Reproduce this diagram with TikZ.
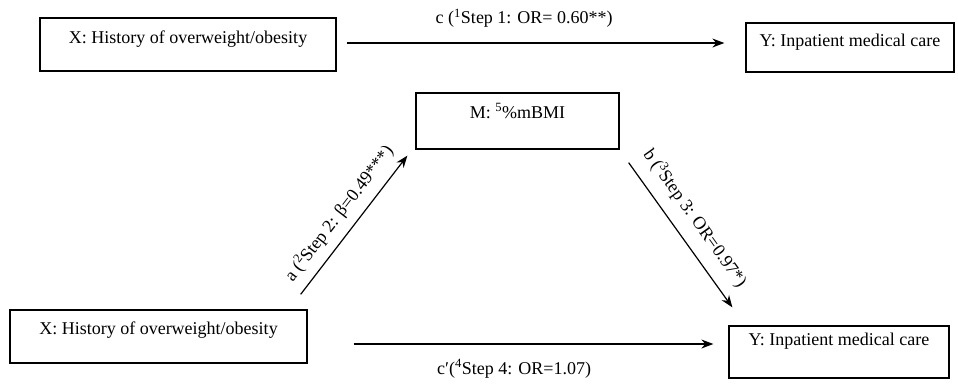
\documentclass[tikz,border=0pt]{standalone}
\usepackage{fontspec}
\setmainfont{Liberation Serif}
\usetikzlibrary{arrows.meta}
\begin{document}
\begin{tikzpicture}[x=1pt, y=-1pt,
		font=\fontsize{18}{21}\selectfont,
		box/.style={draw, line width=1.3pt, inner xsep=0pt, inner ysep=0pt},
		path/.style={line width=1.2pt, -{Stealth[length=12pt, width=9pt]}},
		coef/.style={inner sep=1pt}]
		\useasboundingbox (0,0) rectangle (958,388);
		
		\node[box, minimum width=296pt, text height=25pt, text depth=28pt] (xtop) at (188,44.5) {X: History of overweight/obesity};
		\node[box, minimum width=208pt, text height=23pt, text depth=26pt] (ytop) at (850,47.5) {Y: Inpatient medical care};
		\node[box, minimum width=203pt, text height=25pt, text depth=31pt] (med) at (517.5,121) {M: \textsuperscript{5}\%mBMI};
		\node[box, minimum width=297pt, text height=24pt, text depth=29pt] (xbot) at (158.5,336.5) {X: History of overweight/obesity};
		\node[box, minimum width=220pt, text height=19pt, text depth=33pt] (ybot) at (839,352) {Y: Inpatient medical care};
		
		\draw[path] ([shift={(10,-1.5)}]xtop.east) -- ([shift={(-21,-4.5)}]ytop.west)
			node[coef, pos=0.47, above=14pt] (cstep) {c (\textsuperscript{1}Step 1: OR= 0.60**)};
		\draw[path] ([shift={(-7,-15)}]xbot.north east) -- ([shift={(-8,6)}]med.south west)
			node[coef, midway, sloped, above=8pt] (astep) {a (\textsuperscript{2}Step 2: β=0.49***)};
		\draw[path] ([shift={(9,13)}]med.south east) -- ([shift={(4,-18)}]ybot.north west)
			node[coef, pos=0.47, sloped, above=11pt] (bstep) {b (\textsuperscript{3}Step 3: OR=0.97*)};
		\draw[path] ([shift={(46,7.5)}]xbot.east) -- ([shift={(-15,-8)}]ybot.west)
			node[coef, pos=0.446, below=14pt] (cpstep) {c′(\textsuperscript{4}Step 4: OR=1.07)};
		
		\end{tikzpicture}
\end{document}
